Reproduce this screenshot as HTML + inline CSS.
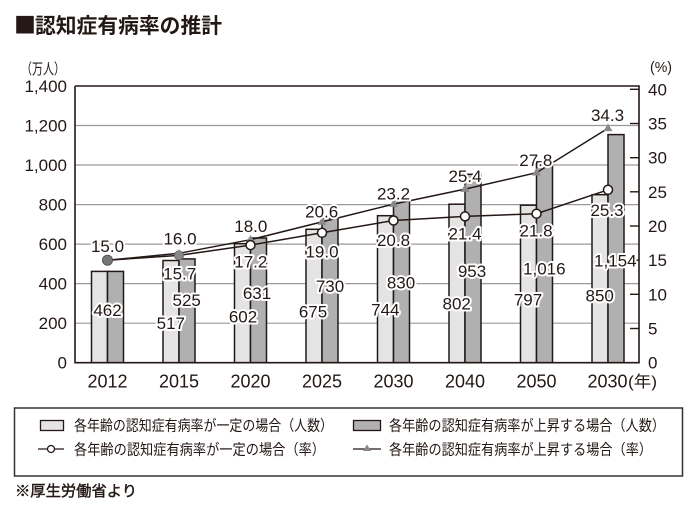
<!DOCTYPE html>
<html><head><meta charset="utf-8"><style>
html,body{margin:0;padding:0;background:#fff;}
svg{display:block;}
text{font-family:"Liberation Sans","Noto Sans CJK JP",sans-serif;fill:#231815;}
.h{paint-order:stroke;stroke:#fff;stroke-width:4;stroke-linejoin:round;}
</style></head><body>
<svg width="700" height="510" viewBox="0 0 700 510" xmlns="http://www.w3.org/2000/svg">
<!-- title -->
<text x="14" y="33" font-size="21" font-weight="bold"><tspan style="font-family:'Noto Sans CJK JP',sans-serif" font-size="22">■</tspan><tspan x="35" textLength="187" lengthAdjust="spacingAndGlyphs">認知症有病率の推計</tspan></text>
<text x="21" y="74" font-size="15" textLength="44" lengthAdjust="spacingAndGlyphs">（万人）</text>
<text x="650" y="72" font-size="15" textLength="22" lengthAdjust="spacingAndGlyphs">(%)</text>

<!-- gridlines -->
<g stroke="#9a9a9a" stroke-width="1.2">
<line x1="75" x2="639" y1="323.2" y2="323.2"/>
<line x1="75" x2="639" y1="283.6" y2="283.6"/>
<line x1="75" x2="639" y1="244.1" y2="244.1"/>
<line x1="75" x2="639" y1="204.6" y2="204.6"/>
<line x1="75" x2="639" y1="165.0" y2="165.0"/>
<line x1="75" x2="639" y1="125.5" y2="125.5"/>
</g>

<!-- bars -->
<g stroke="#231815" stroke-width="1.5">
<rect x="91.5" y="271.4" width="16" height="91.3" fill="#e4e4e4"/>
<rect x="107.5" y="271.4" width="16" height="91.3" fill="#b0b0b0"/>
<rect x="163" y="260.5" width="16" height="102.2" fill="#e4e4e4"/>
<rect x="179" y="258.9" width="16" height="103.8" fill="#b0b0b0"/>
<rect x="234.5" y="243.7" width="16" height="119" fill="#e4e4e4"/>
<rect x="250.5" y="238.0" width="16" height="124.7" fill="#b0b0b0"/>
<rect x="306" y="229.3" width="16" height="133.4" fill="#e4e4e4"/>
<rect x="322" y="218.4" width="16" height="144.3" fill="#b0b0b0"/>
<rect x="377.5" y="215.7" width="16" height="147" fill="#e4e4e4"/>
<rect x="393.5" y="198.7" width="16" height="164" fill="#b0b0b0"/>
<rect x="449" y="204.2" width="16" height="158.5" fill="#e4e4e4"/>
<rect x="465" y="174.3" width="16" height="188.4" fill="#b0b0b0"/>
<rect x="520.5" y="205.2" width="16" height="157.5" fill="#e4e4e4"/>
<rect x="536.5" y="161.9" width="16" height="200.8" fill="#b0b0b0"/>
<rect x="592" y="194.7" width="16" height="168" fill="#e4e4e4"/>
<rect x="608" y="134.6" width="16" height="228.1" fill="#b0b0b0"/>
</g>

<!-- axes -->
<g stroke="#231815" stroke-width="1.6" fill="none">
<polyline points="75,86 639,86 639,362.7 75,362.7 75,86"/>
</g>
<g stroke="#231815" stroke-width="1.4">
<line x1="630" x2="639" y1="89.3" y2="89.3"/>
<line x1="630" x2="639" y1="123.5" y2="123.5"/>
<line x1="630" x2="639" y1="157.7" y2="157.7"/>
<line x1="630" x2="639" y1="191.8" y2="191.8"/>
<line x1="630" x2="639" y1="226.0" y2="226.0"/>
<line x1="630" x2="639" y1="260.2" y2="260.2"/>
<line x1="630" x2="639" y1="294.3" y2="294.3"/>
<line x1="630" x2="639" y1="328.5" y2="328.5"/>
</g>

<!-- left tick labels -->
<g font-size="17" text-anchor="end">
<text x="67" y="92">1,400</text>
<text x="67" y="131.5">1,200</text>
<text x="67" y="171">1,000</text>
<text x="67" y="210.6">800</text>
<text x="67" y="250.1">600</text>
<text x="67" y="289.6">400</text>
<text x="67" y="329.2">200</text>
<text x="67" y="368.7">0</text>
</g>
<!-- right tick labels -->
<g font-size="17">
<text x="648" y="95.3">40</text>
<text x="648" y="129.5">35</text>
<text x="648" y="163.7">30</text>
<text x="648" y="197.8">25</text>
<text x="648" y="232">20</text>
<text x="648" y="266.2">15</text>
<text x="648" y="300.3">10</text>
<text x="648" y="334.5">5</text>
<text x="648" y="368.7">0</text>
</g>
<!-- x labels -->
<g font-size="18" text-anchor="middle">
<text x="107.5" y="387.5">2012</text>
<text x="179" y="387.5">2015</text>
<text x="250.5" y="387.5">2020</text>
<text x="322" y="387.5">2025</text>
<text x="393.5" y="387.5">2030</text>
<text x="465" y="387.5">2040</text>
<text x="536.5" y="387.5">2050</text>
<text x="607.5" y="387.5">2030</text>
</g>
<text x="628" y="387" font-size="16" textLength="29" lengthAdjust="spacingAndGlyphs">(年)</text>

<!-- lines -->
<g stroke="#231815" stroke-width="1.5" fill="none">
<polyline points="107.5,260.2 179,253.3 250.5,239.7 322,221.9 393.5,204.1 465,189.1 536.5,172.7 608,128.3"/>
<polyline points="107.5,260.2 179,255.4 250.5,245.1 322,232.8 393.5,220.5 465,216.4 536.5,213.7 608,189.8"/>
</g>
<!-- markers -->
<g fill="#888">
<polygon points="250.5,235 255,242.5 246,242.5"/>
<polygon points="322,217.2 326.5,224.7 317.5,224.7"/>
<polygon points="393.5,199.4 398,206.9 389,206.9"/>
<polygon points="465,184.4 469.5,191.9 460.5,191.9"/>
<polygon points="536.5,168 541,175.5 532,175.5"/>
<polygon points="608,123.6 612.5,131.1 603.5,131.1"/>
</g>
<circle cx="107.5" cy="260.2" r="5" fill="#777" stroke="#555" stroke-width="1"/>
<circle cx="179" cy="255.4" r="4.5" fill="#888" stroke="#666" stroke-width="1"/>
<polygon points="179,249 183.5,256.5 174.5,256.5" fill="#888"/>
<g fill="#fff" stroke="#231815" stroke-width="1.5">
<circle cx="250.5" cy="245.1" r="4.5"/>
<circle cx="322" cy="232.8" r="4.5"/>
<circle cx="393.5" cy="220.5" r="4.5"/>
<circle cx="465" cy="216.4" r="4.5"/>
<circle cx="536.5" cy="213.7" r="4.5"/>
<circle cx="608" cy="189.8" r="4.5"/>
</g>

<!-- percent labels -->
<g font-size="17" text-anchor="middle">
<text class="h" x="107.5" y="252">15.0</text>
<text class="h" x="180" y="244.3">16.0</text>
<text class="h" x="250.8" y="232">18.0</text>
<text class="h" x="321.7" y="217.7">20.6</text>
<text class="h" x="393.5" y="199.3">23.2</text>
<text class="h" x="465" y="182">25.4</text>
<text class="h" x="535.8" y="166">27.8</text>
<text class="h" x="607.5" y="121">34.3</text>
<text class="h" x="179.7" y="279.3">15.7</text>
<text class="h" x="250.8" y="267.7">17.2</text>
<text class="h" x="322" y="257.7">19.0</text>
<text class="h" x="393.5" y="246">20.8</text>
<text class="h" x="465" y="239.3">21.4</text>
<text class="h" x="536" y="236.7">21.8</text>
<text class="h" x="607" y="216">25.3</text>
</g>
<!-- bar value labels -->
<g font-size="17" text-anchor="middle">
<text class="h" x="107.5" y="316">462</text>
<text class="h" x="170.8" y="329">517</text>
<text class="h" x="186.7" y="306">525</text>
<text class="h" x="243" y="322.7">602</text>
<text class="h" x="257" y="299">631</text>
<text class="h" x="313" y="317.7">675</text>
<text class="h" x="330" y="292">730</text>
<text class="h" x="385.3" y="315.3">744</text>
<text class="h" x="401" y="288.7">830</text>
<text class="h" x="456.7" y="309.3">802</text>
<text class="h" x="472" y="277">953</text>
<text class="h" x="528" y="305.3">797</text>
<text class="h" x="544.3" y="274.3">1,016</text>
<text class="h" x="599.7" y="301.7">850</text>
<text class="h" x="615.3" y="266.7">1,154</text>
</g>

<!-- legend -->
<rect x="14.5" y="408" width="668" height="68" fill="#fff" stroke="#333" stroke-width="1.5"/>
<rect x="40.5" y="420.5" width="23" height="10" fill="#e4e4e4" stroke="#231815" stroke-width="1.3"/>
<text x="74" y="430.5" font-size="15" textLength="259" lengthAdjust="spacingAndGlyphs">各年齢の認知症有病率が一定の場合（人数）</text>
<line x1="38" x2="64" y1="449" y2="449" stroke="#231815" stroke-width="1.3"/>
<circle cx="51" cy="449" r="3.5" fill="#fff" stroke="#231815" stroke-width="1.3"/>
<text x="74" y="454.5" font-size="15" textLength="251" lengthAdjust="spacingAndGlyphs">各年齢の認知症有病率が一定の場合（率）</text>

<rect x="353.5" y="420.5" width="27" height="10" fill="#b0b0b0" stroke="#231815" stroke-width="1.3"/>
<text x="389" y="430.5" font-size="15" textLength="276" lengthAdjust="spacingAndGlyphs">各年齢の認知症有病率が上昇する場合（人数）</text>
<line x1="353" x2="381" y1="449" y2="449" stroke="#231815" stroke-width="1.3"/>
<polygon points="367,444.5 371,451 363,451" fill="#888"/>
<text x="389" y="454.5" font-size="15" textLength="263" lengthAdjust="spacingAndGlyphs">各年齢の認知症有病率が上昇する場合（率）</text>

<text x="15" y="496" font-size="15" stroke="#231815" stroke-width="0.4" textLength="122" lengthAdjust="spacingAndGlyphs">※厚生労働省より</text>
</svg>
</body></html>
